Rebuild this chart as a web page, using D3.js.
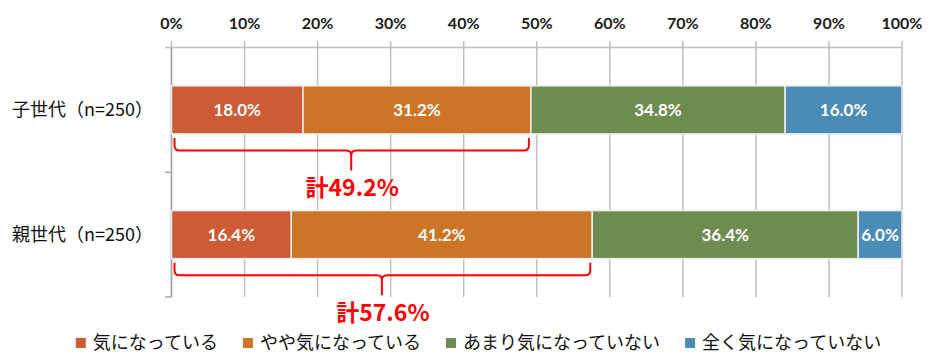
<!DOCTYPE html>
<html><head><meta charset="utf-8">
<script src="https://cdn.jsdelivr.net/npm/d3@7"></script>
<style>
html,body{margin:0;padding:0;background:#fff;}
svg{display:block;}
</style></head>
<body>
<svg id="chart" width="944" height="361"></svg>
<script>
const categories = ["子世代（n=250）", "親世代（n=250）"];
const seriesNames = ["気になっている", "やや気になっている", "あまり気になっていない", "全く気になっていない"];
const seriesColors = ["#CD5B36", "#CC7527", "#6E8C50", "#4A8CB5"];
const s1 = [18.0, 16.4];
const s2 = [31.2, 41.2];
const s3 = [34.8, 36.4];
const s4 = [16.0, 6.0];
const totals = [49.2, 57.6];
const tickValues = [0, 10, 20, 30, 40, 50, 60, 70, 80, 90, 100];

const seriesVals = [s1, s2, s3, s4];
const svg = d3.select("#chart");
const x = d3.scaleLinear().domain([0, 100]).range([171.5, 902]);
const y = d3.scaleBand().domain(categories).range([47.5, 297]).padding(0);
const barH = y.bandwidth() * 0.385;
const axisY = 47.5;

// gridlines
svg.append("g").selectAll("line").data(tickValues).join("line")
  .attr("x1", d => x(d)).attr("x2", d => x(d))
  .attr("y1", 41).attr("y2", 297)
  .attr("stroke", "#BFBFBF").attr("stroke-width", 1.5);
// top axis line
svg.append("line").attr("x1", 165).attr("x2", x(100)).attr("y1", axisY).attr("y2", axisY)
  .attr("stroke", "#BFBFBF").attr("stroke-width", 1.5);
// category axis
svg.append("line").attr("x1", x(0)).attr("x2", x(0)).attr("y1", axisY).attr("y2", 297)
  .attr("stroke", "#A6A6A6").attr("stroke-width", 1.5);
const catTicks = [y(categories[1]), y(categories[1]) + y.bandwidth()];
svg.append("g").selectAll("line").data(catTicks).join("line")
  .attr("x1", 165).attr("x2", x(0)).attr("y1", d => d).attr("y2", d => d)
  .attr("stroke", "#A6A6A6").attr("stroke-width", 1.5);

// tick labels
svg.append("g").selectAll("text").data(tickValues).join("text")
  .attr("x", d => x(d)).attr("y", 28.5)
  .attr("text-anchor", "middle")
  .attr("font-family", "Lato, 'Open Sans', sans-serif")
  .attr("font-weight", "bold").attr("font-size", 16).attr("fill", "#1a1a1a")
  .text(d => d + "%");

// stacked bars
categories.forEach((c, ci) => {
  let cum = 0;
  const yTop = y(c) + (y.bandwidth() - barH) / 2;
  seriesVals.forEach((vals, si) => {
    const v = vals[ci];
    const x0 = x(cum), x1 = x(cum + v);
    svg.append("rect").attr("x", x0).attr("y", yTop).attr("width", x1 - x0).attr("height", barH)
      .attr("fill", seriesColors[si]).attr("stroke", "#EDEDED").attr("stroke-width", 1.5);
    svg.append("text").attr("x", (x0 + x1) / 2).attr("y", yTop + barH / 2 + 6)
      .attr("text-anchor", "middle")
      .attr("font-family", "Lato, 'Open Sans', sans-serif")
      .attr("font-weight", "bold").attr("font-size", 17).attr("fill", "#fff")
      .text(v.toFixed(1) + "%");
    cum += v;
  });
  // category label
  svg.append("text").attr("x", 12).attr("y", y(c) + y.bandwidth() / 2 + 6.5)
    .attr("font-family", "'Noto Sans CJK JP', sans-serif")
    .attr("font-size", 18).attr("fill", "#111")
    .text(c);

  // bracket
  const t = totals[ci];
  const bx0 = x(0) + 3, bx1 = x(t) - 2, mid = x(t / 2);
  const bTop = yTop + barH + 4, yH = yTop + barH + 16.5, tip = yH + 20, r = 5;
  const p = `M${bx0},${bTop} L${bx0},${yH - r} Q${bx0},${yH} ${bx0 + r},${yH} L${mid - r},${yH} Q${mid},${yH} ${mid},${yH + r} L${mid},${tip} M${mid},${yH + r} Q${mid},${yH} ${mid + r},${yH} L${bx1 - r},${yH} Q${bx1},${yH} ${bx1},${yH - r} L${bx1},${bTop}`;
  svg.append("path").attr("d", p).attr("fill", "none").attr("stroke", "#FF0000").attr("stroke-width", 2);
  svg.append("text").attr("x", mid + 1).attr("y", yH + 45.5)
    .attr("text-anchor", "middle")
    .attr("font-family", "'Noto Sans CJK JP', sans-serif")
    .attr("font-weight", "bold").attr("font-size", 23).attr("fill", "#FF0000")
    .text("計" + t.toFixed(1) + "%");
});

// legend
const lg = svg.append("g");
let lx = 0;
seriesNames.forEach((n, i) => {
  const g = lg.append("g").attr("transform", `translate(${lx},0)`);
  g.append("rect").attr("x", 0).attr("y", 338).attr("width", 10).attr("height", 10).attr("fill", seriesColors[i]);
  const t = g.append("text").attr("x", 17).attr("y", 348.5)
    .attr("font-family", "'Noto Sans CJK JP', sans-serif")
    .attr("font-size", 18).attr("fill", "#111").text(n);
  lx += 17 + t.node().getComputedTextLength() + 25;
});
const totalW = lx - 25;
lg.attr("transform", `translate(${72 + (885 - 72 - totalW) / 2},0)`);
</script>
</body></html>
